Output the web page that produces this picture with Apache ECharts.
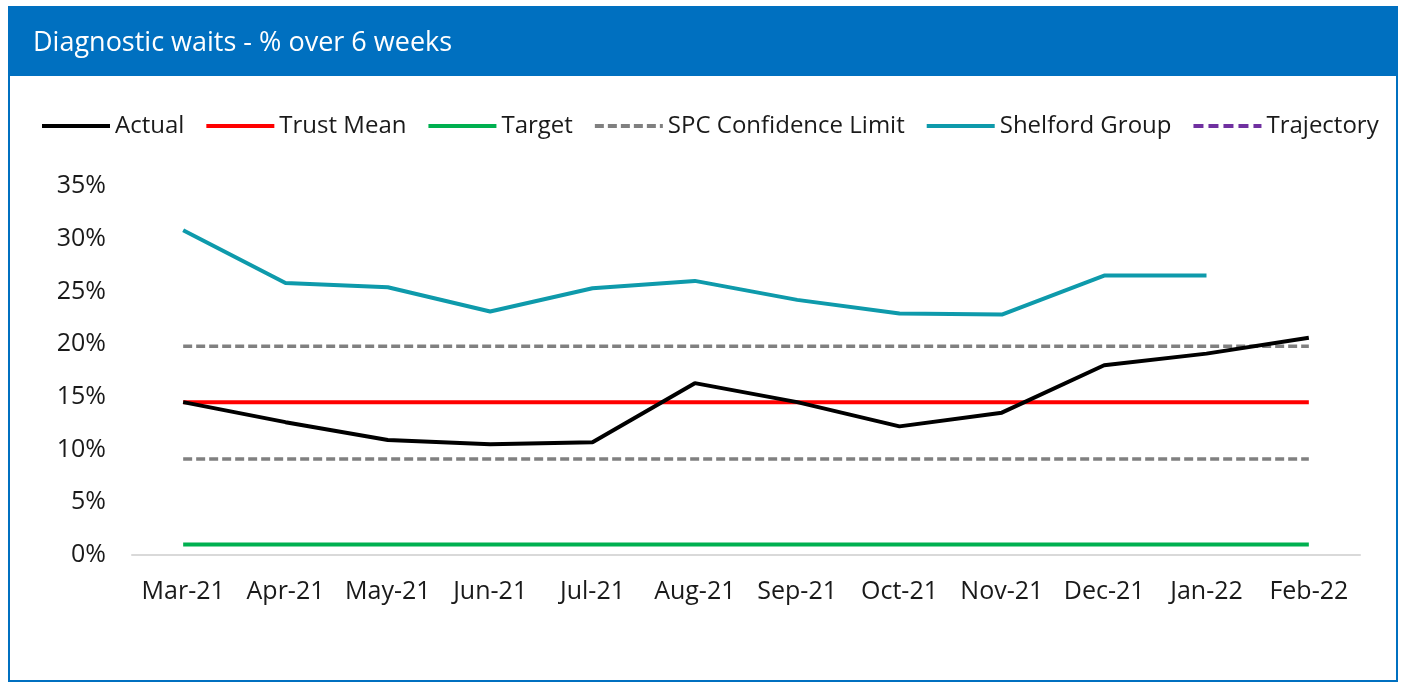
<!DOCTYPE html>
<html>
<head>
<meta charset="utf-8">
<script src="https://cdn.jsdelivr.net/npm/echarts@6/dist/echarts.min.js"></script>
<style>
html,body{margin:0;padding:0;background:#fff;}
#chart{width:1406px;height:684px;}
</style>
</head>
<body>
<div id="chart"></div>
<script>
var categories = ['Mar-21','Apr-21','May-21','Jun-21','Jul-21','Aug-21','Sep-21','Oct-21','Nov-21','Dec-21','Jan-22','Feb-22'];
var actual = [14.5, 12.6, 10.9, 10.5, 10.7, 16.3, 14.5, 12.2, 13.5, 18.0, 19.1, 20.6];
var trustMean = [14.5, 14.5, 14.5, 14.5, 14.5, 14.5, 14.5, 14.5, 14.5, 14.5, 14.5, 14.5];
var target = [1, 1, 1, 1, 1, 1, 1, 1, 1, 1, 1, 1];
var spcUpper = [19.8, 19.8, 19.8, 19.8, 19.8, 19.8, 19.8, 19.8, 19.8, 19.8, 19.8, 19.8];
var spcLower = [9.1, 9.1, 9.1, 9.1, 9.1, 9.1, 9.1, 9.1, 9.1, 9.1, 9.1, 9.1];
var shelford = [30.8, 25.8, 25.4, 23.1, 25.3, 26.0, 24.2, 22.9, 22.8, 26.5, 26.5, null];
var trajectory = [null, null, null, null, null, null, null, null, null, null, null, null];
var yTicks = [0, 5, 10, 15, 20, 25, 30, 35];
var titleText = 'Diagnostic waits - % over 6 weeks';

var FONT = 'Open Sans';
var chart = echarts.init(document.getElementById('chart'), null, {renderer: 'canvas'});
var option = {
  animation: false,
  backgroundColor: '#ffffff',
  graphic: [
    {type: 'rect', shape: {x: 9, y: 7, width: 1388, height: 674}, style: {fill: 'none', stroke: '#0070C0', lineWidth: 2}, z: 0},
    {type: 'rect', shape: {x: 8, y: 6, width: 1390, height: 70}, style: {fill: '#0070C0'}, z: 0}
  ],
  title: {
    text: titleText,
    left: 28, top: 25,
    textStyle: {color: '#ffffff', fontFamily: FONT, fontSize: 27, fontWeight: 'normal'}
  },
  legend: {
    left: 40, top: 114, padding: 0,
    itemWidth: 68, itemHeight: 14, itemGap: 20,
    itemStyle: {opacity: 0},
    lineStyle: {width: 4},
    textStyle: {color: '#1a1a1a', fontFamily: FONT, fontSize: 24, padding: [0,0,0,0]},
    data: ['Actual','Trust Mean','Target','SPC Confidence Limit','Shelford Group','Trajectory']
  },
  grid: {left: 132, right: 46, top: 186, bottom: 129, containLabel: false},
  xAxis: {
    type: 'category', data: categories, boundaryGap: true,
    axisLine: {lineStyle: {color: '#d9d9d9', width: 2}},
    axisTick: {show: false},
    axisLabel: {color: '#1a1a1a', fontFamily: FONT, fontSize: 25, margin: 24, interval: 0}
  },
  yAxis: {
    type: 'value', min: yTicks[0], max: yTicks[yTicks.length-1], interval: 5,
    axisLine: {show: false}, axisTick: {show: false}, splitLine: {show: false},
    axisLabel: {color: '#1a1a1a', fontFamily: FONT, fontSize: 25, margin: 26, formatter: function(v){return v + '%';}}
  },
  series: [
    {name: 'Actual', type: 'line', data: actual, symbol: 'none', lineStyle: {color: '#000000', width: 4}, itemStyle: {color: '#000000'}, z: 6},
    {name: 'Trust Mean', type: 'line', data: trustMean, symbol: 'none', lineStyle: {color: '#FF0000', width: 4}, itemStyle: {color: '#FF0000'}, z: 5},
    {name: 'Target', type: 'line', data: target, symbol: 'none', lineStyle: {color: '#00B050', width: 4}, itemStyle: {color: '#00B050'}, z: 4},
    {name: 'SPC Confidence Limit', type: 'line', data: spcUpper, symbol: 'none', lineStyle: {color: '#808080', width: 3.5, type: [9, 4]}, itemStyle: {color: '#808080'}, z: 3},
    {name: 'SPC Confidence Limit', type: 'line', data: spcLower, symbol: 'none', lineStyle: {color: '#808080', width: 3.5, type: [9, 4]}, itemStyle: {color: '#808080'}, z: 3},
    {name: 'Shelford Group', type: 'line', data: shelford, symbol: 'none', lineStyle: {color: '#0E9AAB', width: 4}, itemStyle: {color: '#0E9AAB'}, z: 4},
    {name: 'Trajectory', type: 'line', data: trajectory, symbol: 'none', lineStyle: {color: '#7030A0', width: 4, type: [10, 5]}, itemStyle: {color: '#7030A0'}, z: 4}
  ]
};
chart.setOption(option);
</script>
</body>
</html>
